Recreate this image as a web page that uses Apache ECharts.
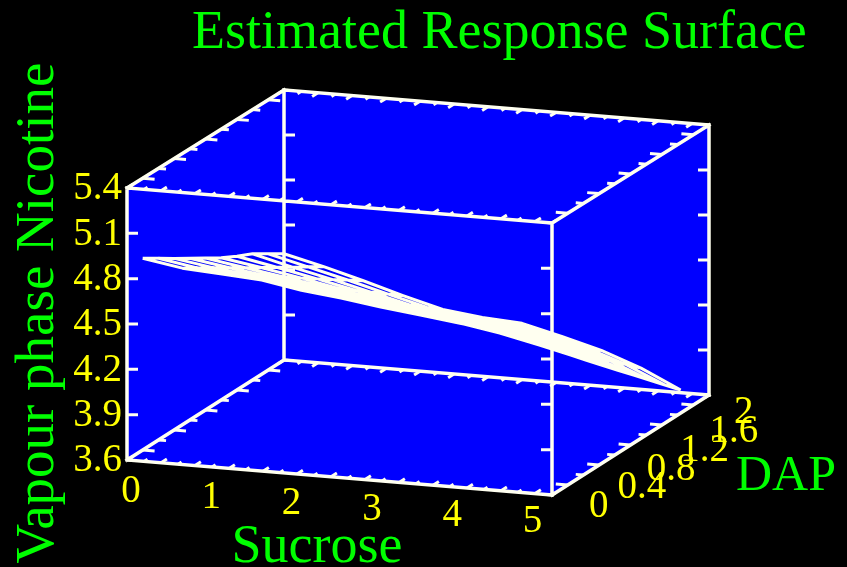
<!DOCTYPE html>
<html>
<head>
<meta charset="utf-8">
<style>html,body{margin:0;padding:0;background:#000}#c{width:847px;height:567px}</style>
<script src="https://cdn.jsdelivr.net/npm/echarts@6/dist/echarts.min.js"></script>
</head>
<body>
<div id="c"></div>
<script>
// ---- data ----
const sucroseGrid = [0, 0.467, 0.933, 1.4, 1.867, 2.333, 2.8, 3.267, 3.733, 4.2, 4.667];
const dapGrid = [0.2, 0.4, 0.6, 0.8, 1.0, 1.2, 1.4, 1.6, 1.8, 2.0];
const nicD02 = [4.870, 4.826, 4.808, 4.790, 4.745, 4.714, 4.676, 4.645, 4.613, 4.569, 4.511];
const nicD04 = [4.805, 4.761, 4.737, 4.713, 4.665, 4.634, 4.598, 4.563, 4.527, 4.477, 4.412];
const nicD06 = [4.738, 4.697, 4.667, 4.636, 4.585, 4.554, 4.520, 4.482, 4.441, 4.385, 4.313];
const nicD08 = [4.674, 4.632, 4.596, 4.558, 4.505, 4.473, 4.442, 4.400, 4.355, 4.293, 4.213];
const nicD10 = [4.609, 4.567, 4.525, 4.481, 4.425, 4.393, 4.364, 4.318, 4.269, 4.201, 4.114];
const nicD12 = [4.546, 4.502, 4.455, 4.404, 4.344, 4.313, 4.287, 4.237, 4.183, 4.110, 4.015];
const nicD14 = [4.490, 4.438, 4.384, 4.327, 4.264, 4.233, 4.209, 4.155, 4.096, 4.018, 3.916];
const nicD16 = [4.440, 4.373, 4.313, 4.249, 4.184, 4.153, 4.131, 4.073, 4.010, 3.926, 3.817];
const nicD18 = [4.374, 4.309, 4.243, 4.172, 4.104, 4.072, 4.053, 3.992, 3.924, 3.834, 3.717];
const nicD20 = [4.308, 4.244, 4.172, 4.095, 4.024, 3.992, 3.975, 3.910, 3.838, 3.742, 3.618];
const nicotineRows = [nicD02, nicD04, nicD06, nicD08, nicD10, nicD12, nicD14, nicD16, nicD18, nicD20];

const sucroseLabels = [0, 1, 2, 3, 4, 5];
const dapLabels = [0, 0.4, 0.8, 1.2, 1.6, 2];
const nicotineLabels = [3.6, 3.9, 4.2, 4.5, 4.8, 5.1, 5.4];
const sucroseTicks = [0,0.2,0.4,0.6,0.8,1,1.2,1.4,1.6,1.8,2,2.2,2.4,2.6,2.8,3,3.2,3.4,3.6,3.8,4,4.2,4.4,4.6,4.8,5];
const dapTicks = [0,0.2,0.4,0.6,0.8,1,1.2,1.4,1.6,1.8,2];
const nicotineTicks = [3.9, 4.2, 4.5, 4.8, 5.1];

const titleText = 'Estimated Response Surface';
const xTitle = 'Sucrose', yTitle = 'DAP', zTitle = 'Vapour phase Nicotine';

// ---- projection of the 3D box on to the page plane ----
const S0 = 0, S1 = 5, D0 = 0, D1 = 2, Z0 = 3.6, Z1 = 5.4;
function proj(s, d, z) {
  const h = 272 - d;
  return [127 + 85 * s + 78.5 * d, 460 + 7 * s - 50 * d - (z - Z0) / (Z1 - Z0) * h];
}
const WHITE = '#fffff0', YELLOW = '#ffff00', GREEN = '#00ff00';
const SERIF = '"Liberation Serif","Times New Roman",serif';

function seg(a, b) { return [a, b, [null, null]]; }
function lineSeries(data, width, z, cap) {
  return { type: 'line', data, symbol: 'none', silent: true, animation: false, z,
    connectNulls: false, lineStyle: { color: WHITE, width, cap: cap || 'butt', join: 'round' } };
}

// box edges
const edges = [];
[[S0,D0,S1,D0],[S0,D1,S1,D1]].forEach(e => [Z0,Z1].forEach(z =>
  edges.push(...seg(proj(e[0],e[1],z), proj(e[2],e[3],z)))));
[[S0,D0,S0,D1],[S1,D0,S1,D1]].forEach(e => [Z0,Z1].forEach(z =>
  edges.push(...seg(proj(e[0],e[1],z), proj(e[2],e[3],z)))));
[[S0,D0],[S1,D0],[S1,D1],[S0,D1]].forEach(c =>
  edges.push(...seg(proj(c[0],c[1],Z0), proj(c[0],c[1],Z1))));

// ticks
const ticks = [];
sucroseTicks.forEach((s, i) => {
  const len = i % 2 ? 0.045 : 0.075;
  [Z0, Z1].forEach(z => {
    ticks.push(...seg(proj(s, D0, z), proj(s, D0 + len, z)));
    ticks.push(...seg(proj(s, D1, z), proj(s, D1 - len, z)));
  });
});
dapTicks.forEach((d, i) => {
  const len = i % 2 ? 0.14 : 0.09;
  [Z0, Z1].forEach(z => {
    ticks.push(...seg(proj(S0, d, z), proj(S0 + len, d, z)));
    ticks.push(...seg(proj(S1, d, z), proj(S1 - len, d, z)));
  });
});
nicotineTicks.forEach(z => {
  [[S0,D0,1],[S0,D1,1],[S1,D0,-1],[S1,D1,-1]].forEach(c => {
    const p = proj(c[0], c[1], z);
    ticks.push(...seg(p, [p[0] + 11 * c[2], p[1]]));
  });
});

// surface mesh
const mesh = [];
nicotineRows.forEach((row, r) => {
  row.forEach((v, c) => mesh.push(proj(sucroseGrid[c], dapGrid[r], v)));
  mesh.push([null, null]);
});
sucroseGrid.forEach((s, c) => {
  nicotineRows.forEach((row, r) => mesh.push(proj(s, dapGrid[r], row[c])));
  mesh.push([null, null]);
});

// walls: silhouette of the box
const wall = [proj(S0,D0,Z0),proj(S1,D0,Z0),proj(S1,D1,Z0),proj(S1,D1,Z1),proj(S0,D1,Z1),proj(S0,D0,Z1)];

// text marks
const texts = [];
function addText(text, p, size, fill, align, rotation) {
  texts.push({ text, x: p[0], y: p[1], size, fill, align: align || 'center', rotation: rotation || 0 });
}
nicotineLabels.forEach(z => {
  const p = proj(S0, D0, z);
  addText(z.toFixed(1), [122, p[1] + 1], 39, YELLOW, 'right');
});
sucroseLabels.forEach(s => {
  const p = proj(s, D0, Z0);
  addText(String(s), [p[0] + 4 - 4.7 * s, p[1] + 32 - s], 39, YELLOW);
});
const dapLabelDx = [37, 34, 32, 34, 32, 25];
dapLabels.forEach((d, i) => {
  const p = proj(S1, d, Z0);
  addText(String(d), [p[0] + dapLabelDx[i], p[1] + 12 + 3 * d], 39, YELLOW, 'left');
});
addText(xTitle, [317, 548], 54, GREEN);
addText(yTitle, [786, 477], 50, GREEN);
addText(zTitle, [39, 313], 55, GREEN, 'center', Math.PI / 2);

const chart = echarts.init(document.getElementById('c'), null, { renderer: 'canvas' });
chart.setOption({
  backgroundColor: '#000000',
  animation: false,
  title: { text: titleText, left: 192, top: 7, padding: 0,
    textStyle: { color: GREEN, fontFamily: SERIF, fontSize: 54, fontWeight: 'normal' } },
  grid: { left: 0, right: 0, top: 0, bottom: 0 },
  xAxis: { type: 'value', min: 0, max: 847, show: false },
  yAxis: { type: 'value', min: 0, max: 567, inverse: true, show: false },
  series: [
    { type: 'custom', z: 1, silent: true, data: [0], clip: false,
      renderItem: (p, api) => ({ type: 'polygon',
        shape: { points: wall.map(q => api.coord(q)) }, style: { fill: '#0000ff' } }) },
    lineSeries(ticks, 3, 2),
    lineSeries(mesh, 3, 3),
    lineSeries(edges, 3.5, 4, 'square'),
    { type: 'custom', z: 5, silent: true, clip: false, data: texts.map((t, i) => i),
      renderItem: (p, api) => {
        const t = texts[api.value(0)], c = api.coord([t.x, t.y]);
        return { type: 'text', x: c[0], y: c[1], rotation: t.rotation,
          style: { text: t.text, fill: t.fill, align: t.align, verticalAlign: 'middle',
                   font: t.size + 'px ' + SERIF } };
      } }
  ]
});
</script>
</body>
</html>
